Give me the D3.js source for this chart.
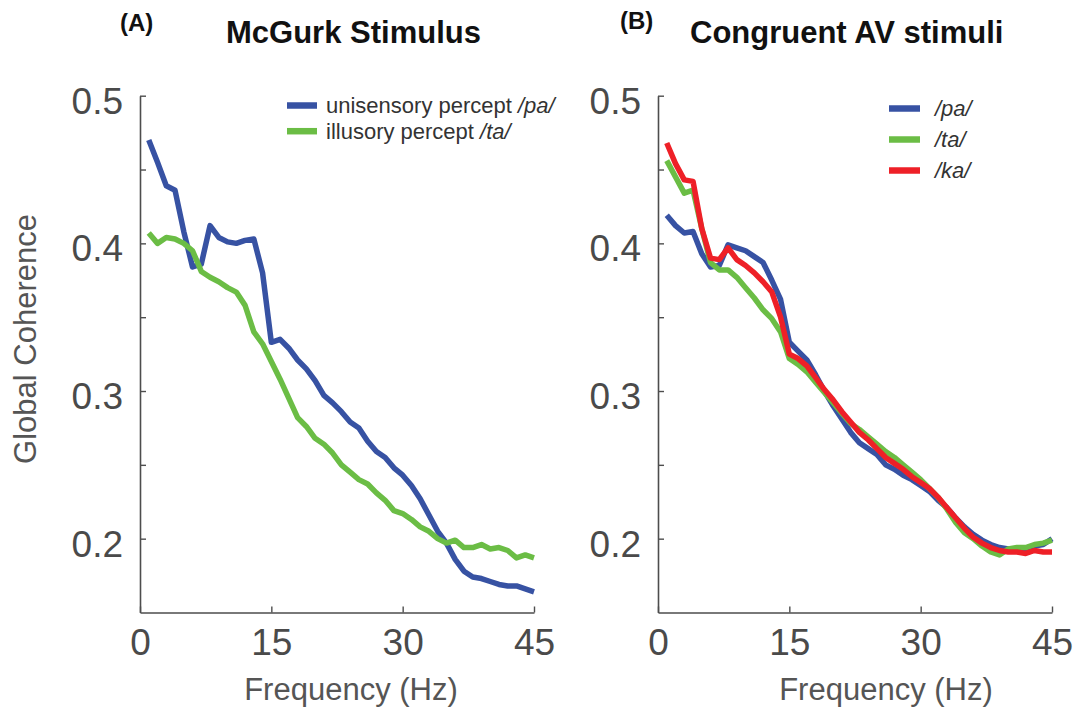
<!DOCTYPE html>
<html>
<head>
<meta charset="utf-8">
<script src="https://cdn.jsdelivr.net/npm/d3@7"></script>
<style>
  html, body { margin: 0; padding: 0; background: #fff; }
  svg { display: block; font-family: "Liberation Sans", Arial, sans-serif; }
</style>
</head>
<body>
<svg id="chart" width="1080" height="711"></svg>
<script>
// ---- data ----
const freqs = [1,2,3,4,5,6,7,8,9,10,11,12,13,14,15,16,17,18,19,20,21,22,23,24,25,26,27,28,29,30,31,32,33,34,35,36,37,38,39,40,41,42,43,44,45];

// Panel A: McGurk stimulus
const mcgurkPa = [0.470,0.455,0.439,0.436,0.408,0.384,0.386,0.412,0.404,0.401,0.400,0.402,0.403,0.380,0.333,
                  0.335,0.329,0.321,0.315,0.307,0.297,0.292,0.286,0.279,0.275,0.266,0.259,0.255,0.248,0.243,
                  0.236,0.227,0.216,0.205,0.197,0.186,0.178,0.174,0.173,0.171,0.169,0.168,0.168,0.166,0.164];
const mcgurkTa = [0.407,0.400,0.404,0.403,0.400,0.395,0.381,0.377,0.374,0.370,0.367,0.358,0.340,0.332,0.320,
                  0.308,0.295,0.282,0.276,0.268,0.264,0.258,0.250,0.245,0.240,0.237,0.231,0.226,0.219,0.217,
                  0.213,0.208,0.205,0.200,0.197,0.199,0.194,0.194,0.196,0.193,0.194,0.192,0.187,0.189,0.187];

// Panel B: Congruent AV stimuli
const congPa = [0.419,0.412,0.407,0.408,0.393,0.384,0.385,0.399,0.397,0.395,0.391,0.387,0.375,0.362,0.333,
                0.327,0.321,0.311,0.300,0.290,0.281,0.272,0.265,0.261,0.257,0.250,0.247,0.243,0.240,0.236,
                0.232,0.226,0.221,0.214,0.208,0.203,0.199,0.196,0.194,0.193,0.193,0.193,0.195,0.196,0.200];
const congTa = [0.456,0.445,0.434,0.436,0.410,0.387,0.382,0.382,0.377,0.370,0.363,0.355,0.349,0.340,0.322,
                0.318,0.313,0.306,0.299,0.292,0.285,0.278,0.274,0.269,0.264,0.259,0.255,0.250,0.245,0.240,
                0.234,0.228,0.220,0.211,0.204,0.200,0.195,0.191,0.189,0.193,0.194,0.194,0.196,0.197,0.199];
const congKa = [0.468,0.454,0.443,0.442,0.410,0.390,0.389,0.397,0.389,0.385,0.380,0.374,0.367,0.350,0.325,
                0.322,0.317,0.309,0.301,0.294,0.286,0.279,0.272,0.267,0.261,0.255,0.251,0.247,0.242,0.238,
                0.234,0.228,0.221,0.214,0.207,0.201,0.197,0.194,0.192,0.191,0.191,0.190,0.192,0.191,0.191];

const xTicks = [0, 15, 30, 45];
const yTicks = [0.2, 0.25, 0.3, 0.35, 0.4, 0.45, 0.5];
const yLabelTicks = [0.2, 0.3, 0.4, 0.5];

const colors = { pa: "#3752a3", ta: "#6bbd45", ka: "#ee2027" };

const panels = [
  {
    letter: "(A)", letterX: 120, letterY: 31,
    title: "McGurk Stimulus", titleX: 226, titleY: 43,
    x0: 140, x1: 534,
    xlabelX: 351,
    series: [
      { name: "pa", values: mcgurkPa },
      { name: "ta", values: mcgurkTa }
    ],
    legend: {
      x: 287, y0: 105.5, dy: 25.7, len: 30, textX: 326,
      items: [
        { color: colors.pa, plain: "unisensory percept ", ital: "/pa/" },
        { color: colors.ta, plain: "illusory percept ", ital: "/ta/" }
      ]
    },
    ylabel: true
  },
  {
    letter: "(B)", letterX: 620, letterY: 29,
    title: "Congruent AV stimuli", titleX: 690, titleY: 43,
    x0: 658, x1: 1052,
    xlabelX: 886,
    series: [
      { name: "pa", values: congPa },
      { name: "ta", values: congTa },
      { name: "ka", values: congKa }
    ],
    legend: {
      x: 889, y0: 108.5, dy: 31, len: 31, textX: 935,
      items: [
        { color: colors.pa, plain: "", ital: "/pa/" },
        { color: colors.ta, plain: "", ital: "/ta/" },
        { color: colors.ka, plain: "", ital: "/ka/" }
      ]
    },
    ylabel: false
  }
];

const svg = d3.select("#chart");
const yTop = 95.7, yBot = 612.5;
const axisColor = "#4d4d4d";

panels.forEach(p => {
  const x = d3.scaleLinear().domain([0, 45]).range([p.x0, p.x1]);
  const y = d3.scaleLinear().domain([0.15, 0.5]).range([yBot, yTop]);
  const g = svg.append("g");

  // y axis
  const yAxis = d3.axisLeft(y)
    .tickValues(yTicks)
    .tickFormat(d => yLabelTicks.some(v => Math.abs(v - d) < 1e-9) ? d3.format(".1f")(d) : "")
    .tickSizeInner(-6).tickSizeOuter(0).tickPadding(17);
  const ya = g.append("g").attr("transform", `translate(${p.x0},0)`).call(yAxis);
  ya.selectAll("text").attr("dy", "0.47em").attr("font-size", 37)
    .attr("font-family", "'Liberation Sans', Arial, sans-serif").attr("fill", "#4a4a4a");

  // x axis
  const xAxis = d3.axisBottom(x).tickValues(xTicks).tickFormat(d3.format("d"))
    .tickSizeInner(-6).tickSizeOuter(0).tickPadding(16);
  const xa = g.append("g").attr("transform", `translate(0,${yBot})`).call(xAxis);
  xa.selectAll("text").attr("font-size", 37)
    .attr("font-family", "'Liberation Sans', Arial, sans-serif").attr("fill", "#4a4a4a");

  [ya, xa].forEach(a => {
    a.select(".domain").attr("stroke", axisColor).attr("stroke-width", 1.6);
    a.selectAll(".tick line").attr("stroke", axisColor).attr("stroke-width", 1.4);
  });

  // lines
  const line = d3.line().x((d, i) => x(freqs[i])).y(d => y(d));
  p.series.forEach(s => {
    g.append("path").datum(s.values)
      .attr("d", line)
      .attr("fill", "none")
      .attr("stroke", colors[s.name])
      .attr("stroke-width", 5.5)
      .attr("stroke-linejoin", "round")
      .attr("stroke-linecap", "butt");
  });

  // legend
  p.legend.items.forEach((it, i) => {
    const ly = p.legend.y0 + i * p.legend.dy;
    g.append("line")
      .attr("x1", p.legend.x).attr("x2", p.legend.x + p.legend.len)
      .attr("y1", ly).attr("y2", ly)
      .attr("stroke", it.color).attr("stroke-width", 6.5);
    const t = g.append("text")
      .attr("x", p.legend.textX).attr("y", ly + 7.5)
      .attr("font-size", 22).attr("fill", "#333");
    if (it.plain) t.append("tspan").text(it.plain);
    t.append("tspan").attr("font-style", "italic").text(it.ital);
  });

  // titles
  svg.append("text").attr("x", p.letterX).attr("y", p.letterY)
    .attr("font-size", 24).attr("font-weight", "bold").attr("fill", "#111").text(p.letter);
  svg.append("text").attr("x", p.titleX).attr("y", p.titleY)
    .attr("font-size", 31).attr("font-weight", "bold").attr("fill", "#111").text(p.title);

  // x label
  svg.append("text").attr("x", p.xlabelX).attr("y", 700)
    .attr("text-anchor", "middle").attr("font-size", 31).attr("fill", "#555")
    .text("Frequency (Hz)");

  if (p.ylabel) {
    svg.append("text")
      .attr("transform", `translate(36,339) rotate(-90)`)
      .attr("text-anchor", "middle").attr("font-size", 31).attr("fill", "#555")
      .text("Global Coherence");
  }
});
</script>
</body>
</html>
